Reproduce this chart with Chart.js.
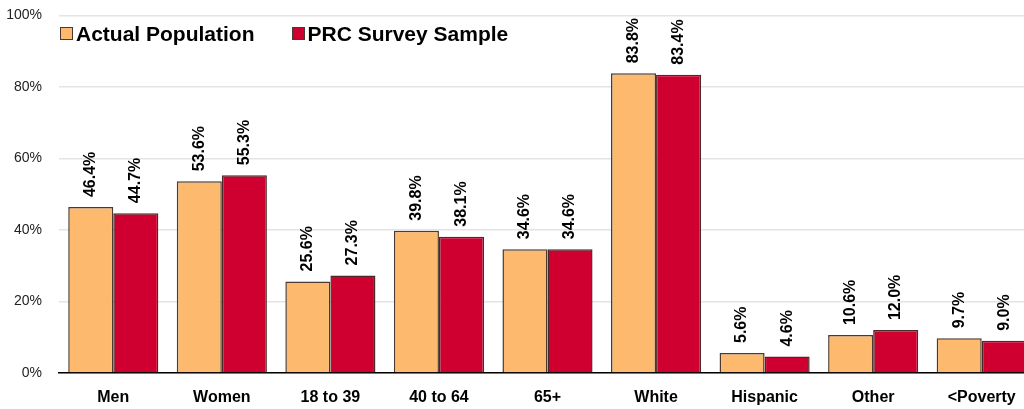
<!DOCTYPE html>
<html>
<head>
<meta charset="utf-8">
<script src="https://cdn.jsdelivr.net/npm/chart.js@4"></script>
<style>
  html, body { margin: 0; padding: 0; background: #fff; overflow: hidden; }
  #wrap { position: relative; width: 1036px; height: 409px; overflow: hidden; }
  #ctx { position: absolute; left: 0; top: -10px; }
  #legend { position: absolute; left: 60px; top: 22px; font: bold 21px "Liberation Sans", Arial, sans-serif; color: #000; white-space: nowrap; }
  #legend span.item { display: inline-block; margin-right: 37px; }
  #legend i { display: inline-block; width: 11px; height: 11px; border: 1px solid #4a3a30; margin-right: 3px; vertical-align: 1px; }
</style>
</head>
<body>
<div id="wrap">
  <canvas id="ctx" width="1036" height="419"></canvas>
  <div id="legend"></div>
</div>
<script>
const categories = ['Men', 'Women', '18 to 39', '40 to 64', '65+', 'White', 'Hispanic', 'Other', '<Poverty'];
const actualPopulation = [46.4, 53.6, 25.6, 39.8, 34.6, 83.8, 5.6, 10.6, 9.7];
const prcSample = [44.7, 55.3, 27.3, 38.1, 34.6, 83.4, 4.6, 12.0, 9.0];
const yTicks = [0, 20, 40, 60, 80, 100];

const narrow = '"Liberation Sans Narrow", "Arial Narrow", "Liberation Sans", Arial, sans-serif';

// vertical value labels above every bar
const barLabels = {
  id: 'barLabels',
  afterDatasetsDraw(chart) {
    const c = chart.ctx;
    c.save();
    c.font = 'bold 16px ' + narrow;
    c.fillStyle = '#000';
    c.textAlign = 'left';
    c.textBaseline = 'middle';
    chart.data.datasets.forEach((ds, i) => {
      chart.getDatasetMeta(i).data.forEach((bar, j) => {
        c.save();
        c.translate(bar.x, bar.y - 10);
        c.rotate(-Math.PI / 2);
        c.fillText(ds.data[j].toFixed(1) + '%', 0, 0);
        c.restore();
      });
    });
    c.restore();
  }
};

const ctx = document.getElementById('ctx');
const chart = new Chart(ctx, {
  type: 'bar',
  data: {
    labels: categories,
    datasets: [{
      label: 'Actual Population',
      data: actualPopulation,
      backgroundColor: '#FDB96E',
      borderColor: '#4a3a30',
      borderWidth: 1.5,
      borderSkipped: 'bottom'
    }, {
      label: 'PRC Survey Sample',
      data: prcSample,
      backgroundColor: '#CF0030',
      borderColor: '#4a2a28',
      borderWidth: 1.5,
      borderSkipped: 'bottom'
    }]
  },
  options: {
    responsive: false,
    animation: false,
    layout: { padding: 0 },
    datasets: { bar: { categoryPercentage: 0.83, barPercentage: 1.0 } },
    plugins: {
      legend: { display: false },
      tooltip: { enabled: false }
    },
    scales: {
      x: {
        afterFit(scale) { scale.height = 36; },
        grid: { display: false, drawTicks: false },
        border: { color: '#000', width: 1.5 },
        ticks: {
          color: '#000',
          padding: 15,
          font: { family: narrow, size: 16, weight: 'bold' }
        }
      },
      y: {
        min: 0,
        max: 100,
        afterBuildTicks(scale) { scale.ticks = yTicks.map(v => ({ value: v })); },
        afterFit(scale) { scale.width = 59; },
        grid: { color: '#e4e4e4', lineWidth: 1.5, drawTicks: false },
        border: { display: false },
        ticks: {
          color: '#222',
          padding: 17,
          font: { family: narrow, size: 14 },
          callback: v => v + '%'
        }
      }
    }
  },
  plugins: [barLabels]
});

const legend = document.getElementById('legend');
chart.data.datasets.forEach(ds => {
  const item = document.createElement('span');
  item.className = 'item';
  item.innerHTML = '<i style="background:' + ds.backgroundColor + '"></i>' + ds.label;
  legend.appendChild(item);
});
</script>
</body>
</html>
